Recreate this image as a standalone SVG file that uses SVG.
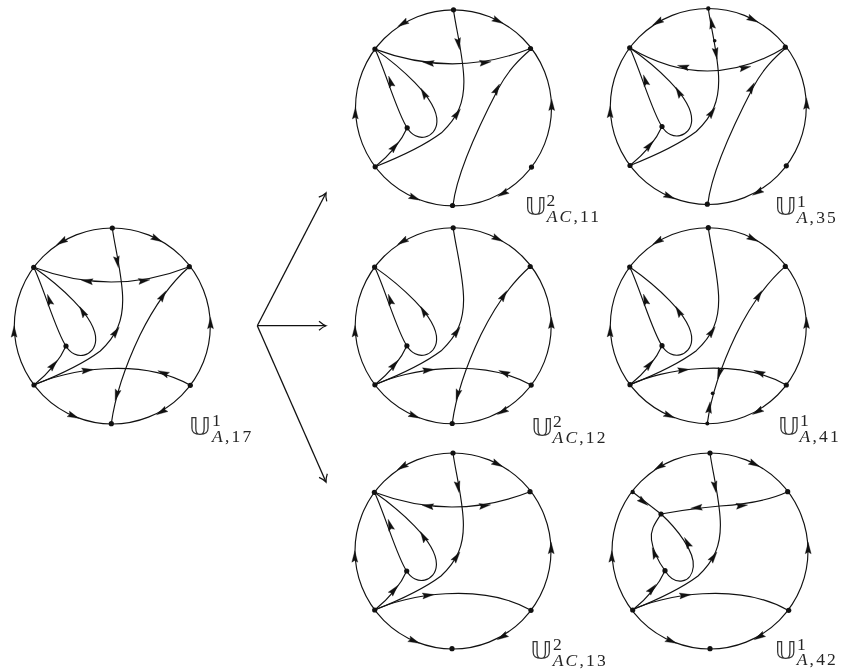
<svg xmlns="http://www.w3.org/2000/svg" width="843" height="672" viewBox="0 0 843 672">
<style>
.l{fill:none;stroke:#111;stroke-width:1.15}
.d{fill:#111}
.a{fill:#111;stroke:#111;stroke-width:.3}
.ar{fill:none;stroke:#111;stroke-width:1.3;marker-end:url(#open)}
.U{font-family:"DejaVu Sans",sans-serif;font-size:24.5px;fill:#333}
.s{font-family:"Liberation Serif",serif;font-size:17.5px;fill:#222}
.b{letter-spacing:2.2px}
.i{font-style:italic}
#labels{opacity:.99}
</style>
<defs>
<marker id="open" markerUnits="userSpaceOnUse" markerWidth="14" markerHeight="14" refX="9" refY="6" orient="auto" viewBox="0 0 14 12"><path d="M2,1.5 Q6,5 9,6 Q6,7 2,10.5" fill="none" stroke="#111" stroke-width="1.2"/></marker>
<path id="ah" d="M6,0 L-5.5,-3 L-3.8,0 L-5.5,3 Z"/>
<g id="rim">
<circle class="l" r="98"/>
<use href="#ah" class="a" transform="translate(-50.6,-84.3) rotate(149)"/>
<use href="#ah" class="a" transform="translate(44.4,-87) rotate(27)"/>
<use href="#ah" class="a" transform="translate(98.2,-2.7) rotate(-90)"/>
<use href="#ah" class="a" transform="translate(-98.2,5.7) rotate(-90)"/>
<use href="#ah" class="a" transform="translate(-39,90) rotate(23)"/>
<use href="#ah" class="a" transform="translate(49.4,85.7) rotate(150)"/>
</g>
<g id="loop">
<path class="l" d="M-78.6,-58.7 C-55.6,-42.7 -15.6,-9.3 -16.6,14 C-17.3,30.7 -37.3,35.7 -46.3,20"/>
<path class="l" d="M-46.3,20 C-55.6,7.3 -69,-39.3 -78.6,-58.7"/>
<path class="l" d="M-78.3,59 Q-55,40 -46.3,20"/>
<use href="#ah" class="a" transform="translate(-29.6,-14.3) rotate(-120)"/>
<use href="#ah" class="a" transform="translate(-63,-26) rotate(-108)"/>
<use href="#ah" class="a" transform="translate(-59,39) rotate(-50)"/>
</g>
<path id="long" class="l" d="M0,-98 C2.7,-77.7 10.4,-49.3 10.4,-26 C10.4,-6 5,9 -12,25 C-28,37 -55.6,50 -78.3,59"/>
<use id="ah-long-up" href="#ah" class="a" transform="translate(3.5,6) rotate(-55)"/>
<use id="ah-long-down" href="#ah" class="a" transform="translate(5,-64.3) rotate(80)"/>
<path id="b" class="l" d="M-78.6,-58.7 Q0,-29 77,-59.3"/>
<use id="ah-b-l" href="#ah" class="a" transform="translate(-25,-45) rotate(188)"/>
<use id="ah-b-r" href="#ah" class="a" transform="translate(31.7,-45.3) rotate(-8)"/>
<path id="g" class="l" d="M-78.3,59 C-47.3,44 27.7,30.7 78,59.3"/>
<use id="ah-g-l" href="#ah" class="a" transform="translate(-25,44.3) rotate(-7)"/>
<use id="ah-g-r" href="#ah" class="a" transform="translate(51,47) rotate(203)"/>
<path id="f" class="l" d="M-1,97.7 C2.7,70.7 11,44 27.7,9 C40,-16 55,-40 77,-59.3"/>
<use id="ah-f-t" href="#ah" class="a" transform="translate(50.4,-30) rotate(-58)"/>
<use id="ah-f-b" href="#ah" class="a" transform="translate(4.4,69) rotate(105)"/>
<path id="f2" class="l" d="M-0.5,97.5 C3.2,65.5 25,18.9 45,-19.5 C55,-37.8 65,-47.8 78,-59"/>
<use id="ah-f2" href="#ah" class="a" transform="translate(43.2,-18.5) rotate(-62)"/>
</defs>

<g id="arrows">
<path class="ar" d="M257.3,325.7 L326,193"/>
<path class="ar" d="M257.3,325.7 L326,325.7"/>
<path class="ar" d="M257.3,325.7 L326,482"/>
</g>

<g id="disc-a17" transform="translate(112.3,326)">
<g class="connectors"><use href="#rim"/><use href="#loop"/><use href="#long"/><use href="#ah-long-up"/><use href="#ah-long-down"/><use href="#b"/><use href="#ah-b-l"/><use href="#ah-b-r"/><use href="#g"/><use href="#ah-g-l"/><use href="#ah-g-r"/><use href="#f"/><use href="#ah-f-t"/><use href="#ah-f-b"/></g>
<g id="a17-t"><circle class="d" cx="0" cy="-98" r="2.6"/></g><g id="a17-ru"><circle class="d" cx="77" cy="-59.3" r="2.6"/></g><g id="a17-rl"><circle class="d" cx="78" cy="59.3" r="2.6"/></g><g id="a17-b"><circle class="d" cx="-1" cy="97.7" r="2.6"/></g><g id="a17-ll"><circle class="d" cx="-78.3" cy="59" r="2.6"/></g><g id="a17-lu"><circle class="d" cx="-78.6" cy="-58.7" r="2.6"/></g><g id="a17-i"><circle class="d" cx="-46.3" cy="20" r="2.6"/></g>
</g>

<g id="disc-ac11" transform="translate(453.5,107.8)">
<g class="connectors"><use href="#rim"/><use href="#loop"/><use href="#long"/><use href="#ah-long-up"/><use href="#ah-long-down"/><use href="#b"/><use href="#ah-b-l"/><use href="#ah-b-r"/><use href="#f2"/><use href="#ah-f2"/></g>
<g id="ac11-t"><circle class="d" cx="0" cy="-98" r="2.6"/></g><g id="ac11-ru"><circle class="d" cx="77" cy="-59.3" r="2.6"/></g><g id="ac11-rl"><circle class="d" cx="78" cy="59.3" r="2.6"/></g><g id="ac11-b"><circle class="d" cx="-1" cy="97.7" r="2.6"/></g><g id="ac11-ll"><circle class="d" cx="-78.3" cy="59" r="2.6"/></g><g id="ac11-lu"><circle class="d" cx="-78.6" cy="-58.7" r="2.6"/></g><g id="ac11-i"><circle class="d" cx="-46.3" cy="20" r="2.6"/></g>
</g>

<g id="disc-a35" transform="translate(708.3,106.5)">
<g class="connectors"><use href="#rim"/><use href="#loop"/><use href="#long"/><use href="#ah-long-up"/><path class="l" d="M-78.6,-58.7 Q0,-12 77,-59.3"/>
<use href="#ah" class="a" transform="translate(-25,-39.8) rotate(192)"/><use href="#ah" class="a" transform="translate(36.7,-38.8) rotate(-12)"/><use href="#ah" class="a" transform="translate(3.4,-83.2) rotate(-100)"/><use href="#ah" class="a" transform="translate(7.7,-53.2) rotate(80)"/><use href="#f2"/><use href="#ah-f2"/></g>
<g id="a35-t"><circle class="d" cx="0" cy="-98" r="2.2"/></g><g id="a35-m"><circle class="d" cx="6.4" cy="-65.8" r="1.8"/></g><g id="a35-ru"><circle class="d" cx="77" cy="-59.3" r="2.6"/></g><g id="a35-rl"><circle class="d" cx="78" cy="59.3" r="2.6"/></g><g id="a35-b"><circle class="d" cx="-1" cy="97.7" r="2.6"/></g><g id="a35-ll"><circle class="d" cx="-78.3" cy="59" r="2.6"/></g><g id="a35-lu"><circle class="d" cx="-78.6" cy="-58.7" r="2.6"/></g><g id="a35-i"><circle class="d" cx="-46.3" cy="20" r="2.6"/></g>
</g>

<g id="disc-ac12" transform="translate(453.2,325.8)">
<g class="connectors"><use href="#rim"/><use href="#loop"/><use href="#long"/><use href="#ah-long-up"/><use href="#g"/><use href="#ah-g-l"/><use href="#ah-g-r"/><use href="#f"/><use href="#ah-f-t"/><use href="#ah-f-b"/></g>
<g id="ac12-t"><circle class="d" cx="0" cy="-98" r="2.6"/></g><g id="ac12-ru"><circle class="d" cx="77" cy="-59.3" r="2.6"/></g><g id="ac12-rl"><circle class="d" cx="78" cy="59.3" r="2.6"/></g><g id="ac12-b"><circle class="d" cx="-1" cy="97.7" r="2.6"/></g><g id="ac12-ll"><circle class="d" cx="-78.3" cy="59" r="2.6"/></g><g id="ac12-lu"><circle class="d" cx="-78.6" cy="-58.7" r="2.6"/></g><g id="ac12-i"><circle class="d" cx="-46.3" cy="20" r="2.6"/></g>
</g>

<g id="disc-a41" transform="translate(708.3,325.7)">
<g class="connectors"><use href="#rim"/><use href="#loop"/><use href="#long"/><use href="#ah-long-up"/><use href="#g"/><use href="#ah-g-l"/><use href="#ah-g-r"/><use href="#f"/><use href="#ah-f-t"/><use href="#ah" class="a" transform="translate(11,47.6) rotate(108)"/><use href="#ah" class="a" transform="translate(1,82) rotate(-82)"/></g>
<g id="a41-t"><circle class="d" cx="0" cy="-98" r="2.6"/></g><g id="a41-m"><circle class="d" cx="4.4" cy="67.6" r="1.9"/></g><g id="a41-ru"><circle class="d" cx="77" cy="-59.3" r="2.6"/></g><g id="a41-rl"><circle class="d" cx="78" cy="59.3" r="2.6"/></g><g id="a41-b"><circle class="d" cx="-1" cy="97.7" r="2"/></g><g id="a41-ll"><circle class="d" cx="-78.3" cy="59" r="2.6"/></g><g id="a41-lu"><circle class="d" cx="-78.6" cy="-58.7" r="2.6"/></g><g id="a41-i"><circle class="d" cx="-46.3" cy="20" r="2.6"/></g>
</g>

<g id="disc-ac13" transform="translate(453,551)">
<g class="connectors"><use href="#rim"/><use href="#loop"/><use href="#long"/><use href="#ah-long-up"/><use href="#ah-long-down"/><use href="#b"/><use href="#ah-b-l"/><use href="#ah-b-r"/><use href="#g"/><use href="#ah-g-l"/></g>
<g id="ac13-t"><circle class="d" cx="0" cy="-98" r="2.6"/></g><g id="ac13-ru"><circle class="d" cx="77" cy="-59.3" r="2.6"/></g><g id="ac13-rl"><circle class="d" cx="78" cy="59.3" r="2.6"/></g><g id="ac13-b"><circle class="d" cx="-1" cy="97.7" r="2.6"/></g><g id="ac13-ll"><circle class="d" cx="-78.3" cy="59" r="2.6"/></g><g id="ac13-lu"><circle class="d" cx="-78.6" cy="-58.7" r="2.6"/></g><g id="ac13-i"><circle class="d" cx="-46.3" cy="20" r="2.6"/></g>
</g>

<g id="disc-a42" transform="translate(710,551)">
<g class="connectors"><use href="#rim"/><use href="#long"/><use href="#ah-long-up"/><use href="#ah-long-down"/><use href="#g"/><use href="#ah-g-l"/>
<path class="l" d="M-77.3,-59 L-49,-37"/>
<path class="l" d="M-49,-37 C-26.7,-41 -10,-43.3 10,-45 C36.7,-46.7 60,-51 77.7,-59.3"/>
<path class="l" d="M-49,-37 C-33.3,-22.7 -15,0.7 -16.7,15.7 C-18.3,32.3 -35,35.7 -45,19.7"/>
<path class="l" d="M-49,-37 C-54,-29 -60,-22 -58.5,-11 C-57,0 -52,10 -45,19.7"/>
<path class="l" d="M-77.3,59 Q-54,40 -45,19.7"/>
<use href="#ah" class="a" transform="translate(-66.7,-49.3) rotate(38)"/>
<use href="#ah" class="a" transform="translate(-13.3,-43.3) rotate(175)"/>
<use href="#ah" class="a" transform="translate(31.7,-45.3) rotate(-6)"/>
<use href="#ah" class="a" transform="translate(-22.7,-8.3) rotate(-118)"/>
<use href="#ah" class="a" transform="translate(-55.7,2.3) rotate(-110)"/>
<use href="#ah" class="a" transform="translate(-58,38) rotate(-50)"/></g>
<g id="a42-t"><circle class="d" cx="0" cy="-98" r="2.6"/></g><g id="a42-n"><circle class="d" cx="-49" cy="-37" r="2.6"/></g><g id="a42-ru"><circle class="d" cx="77.7" cy="-59.3" r="2.6"/></g><g id="a42-rl"><circle class="d" cx="78.7" cy="59.3" r="2.6"/></g><g id="a42-b"><circle class="d" cx="0" cy="97.7" r="2.6"/></g><g id="a42-ll"><circle class="d" cx="-77.3" cy="59" r="2.6"/></g><g id="a42-lu"><circle class="d" cx="-77.3" cy="-59" r="2.2"/></g><g id="a42-i"><circle class="d" cx="-45" cy="19.7" r="2.6"/></g>
</g>

<g id="labels">
<g><text class="U" transform="translate(189,435) scale(1.08,1)">𝕌</text><text class="s" x="212" y="425.5">1</text><text class="s b" x="212" y="442"><tspan class="i">A</tspan>,17</text></g>
<g><text class="U" transform="translate(524.7,215) scale(1.08,1)">𝕌</text><text class="s" x="546.5" y="205.5">2</text><text class="s b" x="546.7" y="222"><tspan class="i">AC</tspan>,11</text></g>
<g><text class="U" transform="translate(774.7,215) scale(1.08,1)">𝕌</text><text class="s" x="797" y="206.5">1</text><text class="s b" x="796.7" y="223"><tspan class="i">A</tspan>,35</text></g>
<g><text class="U" transform="translate(531.3,436) scale(1.08,1)">𝕌</text><text class="s" x="553" y="426.5">2</text><text class="s b" x="552.5" y="443"><tspan class="i">AC</tspan>,12</text></g>
<g><text class="U" transform="translate(778,435) scale(1.08,1)">𝕌</text><text class="s" x="800" y="425.5">1</text><text class="s b" x="799.5" y="442"><tspan class="i">A</tspan>,41</text></g>
<g><text class="U" transform="translate(530.3,659) scale(1.08,1)">𝕌</text><text class="s" x="553" y="650">2</text><text class="s b" x="552.7" y="665.5"><tspan class="i">AC</tspan>,13</text></g>
<g><text class="U" transform="translate(774.7,658.5) scale(1.08,1)">𝕌</text><text class="s" x="797" y="649.5">1</text><text class="s b" x="796.7" y="665"><tspan class="i">A</tspan>,42</text></g>
</g>
</svg>
